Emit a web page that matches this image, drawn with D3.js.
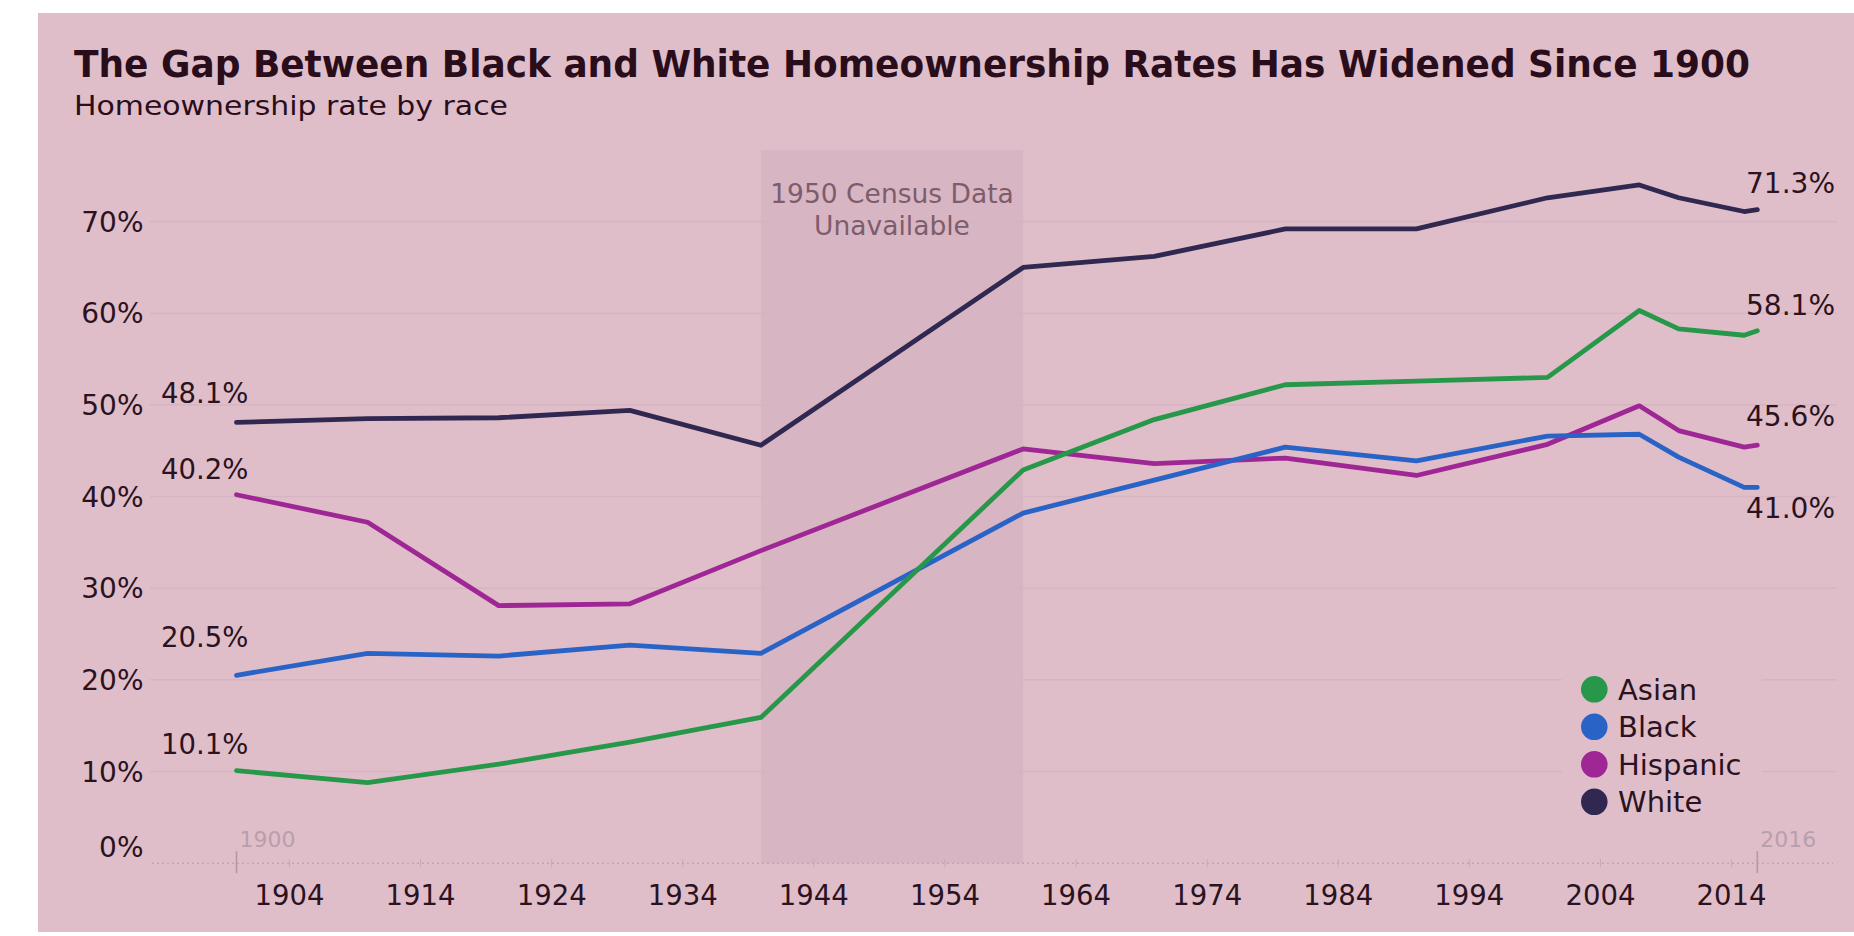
<!DOCTYPE html>
<html>
<head>
<meta charset="utf-8">
<script src="https://cdn.jsdelivr.net/npm/d3@7"></script>
<style>
  html, body { margin: 0; padding: 0; background: #ffffff; }
  svg { display: block; }
  text { font-family: "DejaVu Sans", sans-serif; }
</style>
</head>
<body>
<svg id="chart" width="1854" height="936"></svg>
<script>
// ---- data ----
const years    = [1900, 1910, 1920, 1930, 1940, 1960, 1970, 1980, 1990, 2000, 2007, 2010, 2015, 2016];
const asian    = [10.1, 8.8, 10.8, 13.2, 15.9, 42.9, 48.4, 52.2, 52.6, 53.0, 60.3, 58.3, 57.6, 58.1];
const black    = [20.5, 22.9, 22.6, 23.8, 22.9, 38.2, 41.8, 45.4, 43.9, 46.6, 46.8, 44.3, 41.0, 41.0];
const hispanic = [40.2, 37.2, 28.1, 28.3, 34.1, 45.2, 43.6, 44.2, 42.3, 45.7, 49.9, 47.2, 45.4, 45.6];
const white    = [48.1, 48.5, 48.6, 49.4, 45.6, 65.0, 66.2, 69.2, 69.2, 72.6, 74.0, 72.6, 71.1, 71.3];
const seriesNames = ["Asian", "Black", "Hispanic", "White"];
const seriesColors = ["#27984a", "#2a63c6", "#9f2795", "#302851"];
const yTicks = [0, 10, 20, 30, 40, 50, 60, 70];
const xTicks = [1904, 1914, 1924, 1934, 1944, 1954, 1964, 1974, 1984, 1994, 2004, 2014];
const gapStart = 1940, gapEnd = 1960;
const title = "The Gap Between Black and White Homeownership Rates Has Widened Since 1900";
const subtitle = "Homeownership rate by race";
const noteLines = ["1950 Census Data", "Unavailable"];
// label offsets (layout only): [dy start, dy end]
const labelOffsets = {Asian: [-17, -16], Black: [-28, 31], Hispanic: [-16, -19], White: [-19, -17]};

const seriesValues = [asian, black, hispanic, white];

const svg = d3.select("#chart");
const bg = "#dfbeca";
const textColor = "#2b1220";

svg.append("rect").attr("x", 38).attr("y", 13).attr("width", 1816).attr("height", 919).attr("fill", bg);

const x = d3.scaleLinear().domain([1900, 2016]).range([236.5, 1757.3]);
const y = d3.scaleLinear().domain([0, 70]).range([863.2, 221.6]);

// shaded gap band
svg.append("rect")
  .attr("x", x(gapStart)).attr("y", 150)
  .attr("width", x(gapEnd) - x(gapStart)).attr("height", y(0) - 150)
  .attr("fill", "#d8b5c2");

// gridlines
svg.append("g").selectAll("line").data(yTicks.filter(d => d > 0)).join("line")
  .attr("x1", 150).attr("x2", 1837)
  .attr("y1", d => y(d)).attr("y2", d => y(d))
  .attr("stroke", "#d7b4c1").attr("stroke-width", 1.6);

// y labels
svg.append("g").selectAll("text").data(yTicks).join("text")
  .attr("x", 143.5)
  .attr("y", d => d === 0 ? y(d) - 16 : y(d))
  .attr("dy", "0.36em")
  .attr("text-anchor", "end")
  .attr("font-size", 28)
  .attr("fill", textColor)
  .text(d => d + "%");

// x axis (dotted) via d3 axis
const xAxis = d3.axisBottom(x).tickValues(xTicks).tickFormat(d3.format("d")).tickSize(0).tickPadding(22);
const gx = svg.append("g").attr("transform", `translate(0,${y(0)})`).call(xAxis);
gx.select(".domain").remove();
gx.selectAll("text").attr("font-size", 27.5).attr("fill", textColor).attr("font-family", "DejaVu Sans, sans-serif");
gx.selectAll(".tick").append("line").attr("y1", -4).attr("y2", 4).attr("stroke", "#c8a9b5").attr("stroke-width", 1);
svg.append("line")
  .attr("x1", 152).attr("x2", 1833).attr("y1", y(0)).attr("y2", y(0))
  .attr("stroke", "#c4a4b1").attr("stroke-width", 1.6).attr("stroke-dasharray", "2,3");

// start/end markers
[1900, 2016].forEach(yr => {
  svg.append("line").attr("x1", x(yr)).attr("x2", x(yr)).attr("y1", y(0) - 12).attr("y2", y(0) + 10)
    .attr("stroke", "#b698a4").attr("stroke-width", 1.6);
  svg.append("text").attr("x", x(yr) + 3).attr("y", y(0) - 16)
    .attr("font-size", 22).attr("fill", "#b99fab").text(yr);
});

// note text
svg.append("g").selectAll("text").data(noteLines).join("text")
  .attr("x", x((gapStart + gapEnd) / 2))
  .attr("y", (d, i) => 202.5 + i * 32)
  .attr("text-anchor", "middle")
  .attr("font-size", 26.5)
  .attr("fill", "#7c5d6d")
  .text(d => d);

// lines
const line = d3.line().x((d, i) => x(years[i])).y(d => y(d));
const drawOrder = [3, 2, 1, 0];
drawOrder.forEach(k => {
  svg.append("path").datum(seriesValues[k])
    .attr("d", line)
    .attr("fill", "none")
    .attr("stroke", seriesColors[k])
    .attr("stroke-width", 4.8)
    .attr("stroke-linejoin", "round")
    .attr("stroke-linecap", "round");
});

// start / end labels
const fmt = d3.format(".1f");
seriesNames.forEach((name, k) => {
  const vals = seriesValues[k];
  svg.append("text").attr("x", 161).attr("y", y(vals[0]) + labelOffsets[name][0])
    .attr("font-size", 27.5).attr("fill", textColor).text(fmt(vals[0]) + "%");
  svg.append("text").attr("x", 1835).attr("y", y(vals[vals.length - 1]) + labelOffsets[name][1])
    .attr("text-anchor", "end")
    .attr("font-size", 28).attr("fill", textColor).text(fmt(vals[vals.length - 1]) + "%");
});

// legend
const lg = svg.append("g");
lg.append("rect").attr("x", 1562).attr("y", 668).attr("width", 200).attr("height", 150).attr("fill", bg);
seriesNames.forEach((name, k) => {
  const cy = 689.3 + k * 37.5;
  lg.append("circle").attr("cx", 1594.3).attr("cy", cy).attr("r", 13.3).attr("fill", seriesColors[k]);
  lg.append("text").attr("x", 1618).attr("y", cy).attr("dy", "0.36em")
    .attr("font-size", 29).attr("fill", textColor).text(name);
});

// title
svg.append("text").attr("x", 74).attr("y", 77)
  .attr("font-size", 37).attr("font-weight", "bold").attr("fill", "#2a0d1a")
  .attr("textLength", 1676).attr("lengthAdjust", "spacingAndGlyphs")
  .text(title);
svg.append("text").attr("x", 74).attr("y", 115)
  .attr("font-size", 27).attr("fill", "#2a0d1a")
  .attr("textLength", 434).attr("lengthAdjust", "spacingAndGlyphs")
  .text(subtitle);
</script>
</body>
</html>
